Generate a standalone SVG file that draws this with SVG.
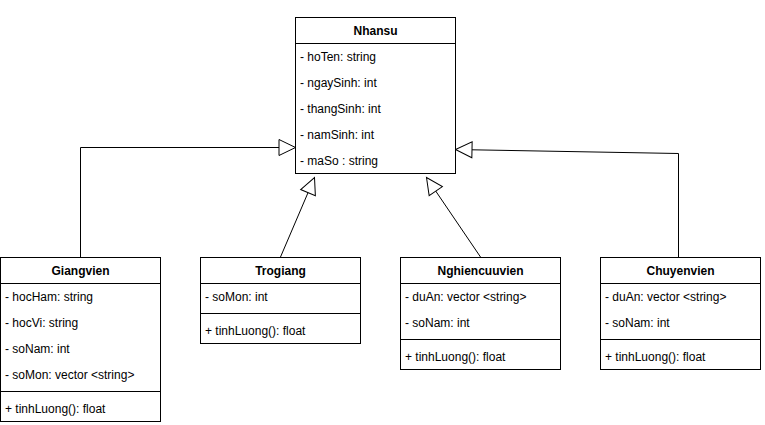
<svg xmlns="http://www.w3.org/2000/svg" width="765" height="425" viewBox="0 0 765 425">
<style>
.box{fill:#fff;stroke:#000;stroke-width:1}
.sep{stroke:#000;stroke-width:1}
.t{font-family:"Liberation Sans",Arial,Helvetica,sans-serif;font-size:12px;fill:#000}
.h{font-family:"Liberation Sans",Arial,Helvetica,sans-serif;font-size:12px;font-weight:bold;fill:#000;text-anchor:middle}
.edge{fill:none;stroke:#000;stroke-width:1}
</style>
<defs>
<marker id="inh" markerUnits="userSpaceOnUse" viewBox="0 0 20 20" refX="18" refY="10" markerWidth="20" markerHeight="20" orient="auto">
<path d="M1.5,2 L18,10 L1.5,18 Z" fill="#fff" stroke="#000" stroke-width="1"/>
</marker>
</defs>
<rect width="765" height="425" fill="#fff"/>
<g id="connectors">
<path class="edge" d="M80.5,257 L80.5,147.5 L295.5,147.5" marker-end="url(#inh)"/>
<path class="edge" d="M280.5,257 L314.5,177.5" marker-end="url(#inh)"/>
<path class="edge" d="M480.5,257 L426.5,177.5" marker-end="url(#inh)"/>
<path class="edge" d="M678.5,257 L678.5,153.5 L455.5,149.5" marker-end="url(#inh)"/>
</g>
<g id="Nhansu">
<rect class="box" x="295.5" y="17.5" width="160" height="156"/>
<line class="sep" x1="295.5" y1="43.5" x2="455.5" y2="43.5"/>
<text class="h" x="375.5" y="34.5">Nhansu</text>
<text class="t" x="300" y="61">- hoTen: string</text>
<text class="t" x="300" y="87">- ngaySinh: int</text>
<text class="t" x="300" y="113">- thangSinh: int</text>
<text class="t" x="300" y="139">- namSinh: int</text>
<text class="t" x="300" y="165">- maSo : string</text>
</g>
<g id="Giangvien">
<rect class="box" x="0.5" y="257.5" width="160" height="164"/>
<line class="sep" x1="0.5" y1="283.5" x2="160.5" y2="283.5"/>
<line class="sep" x1="0.5" y1="391.5" x2="160.5" y2="391.5"/>
<text class="h" x="80.5" y="274.5">Giangvien</text>
<text class="t" x="5" y="301">- hocHam: string</text>
<text class="t" x="5" y="327">- hocVi: string</text>
<text class="t" x="5" y="353">- soNam: int</text>
<text class="t" x="5" y="379">- soMon: vector &lt;string&gt;</text>
<text class="t" x="5" y="413">+ tinhLuong(): float</text>
</g>
<g id="Trogiang">
<rect class="box" x="200.5" y="257.5" width="160" height="86"/>
<line class="sep" x1="200.5" y1="283.5" x2="360.5" y2="283.5"/>
<line class="sep" x1="200.5" y1="313.5" x2="360.5" y2="313.5"/>
<text class="h" x="280.5" y="274.5">Trogiang</text>
<text class="t" x="205" y="301">- soMon: int</text>
<text class="t" x="205" y="335">+ tinhLuong(): float</text>
</g>
<g id="Nghiencuuvien">
<rect class="box" x="400.5" y="257.5" width="160" height="112"/>
<line class="sep" x1="400.5" y1="283.5" x2="560.5" y2="283.5"/>
<line class="sep" x1="400.5" y1="339.5" x2="560.5" y2="339.5"/>
<text class="h" x="480.5" y="274.5">Nghiencuuvien</text>
<text class="t" x="405" y="301">- duAn: vector &lt;string&gt;</text>
<text class="t" x="405" y="327">- soNam: int</text>
<text class="t" x="405" y="361">+ tinhLuong(): float</text>
</g>
<g id="Chuyenvien">
<rect class="box" x="600.5" y="257.5" width="160" height="112"/>
<line class="sep" x1="600.5" y1="283.5" x2="760.5" y2="283.5"/>
<line class="sep" x1="600.5" y1="339.5" x2="760.5" y2="339.5"/>
<text class="h" x="680.5" y="274.5">Chuyenvien</text>
<text class="t" x="605" y="301">- duAn: vector &lt;string&gt;</text>
<text class="t" x="605" y="327">- soNam: int</text>
<text class="t" x="605" y="361">+ tinhLuong(): float</text>
</g>
</svg>
